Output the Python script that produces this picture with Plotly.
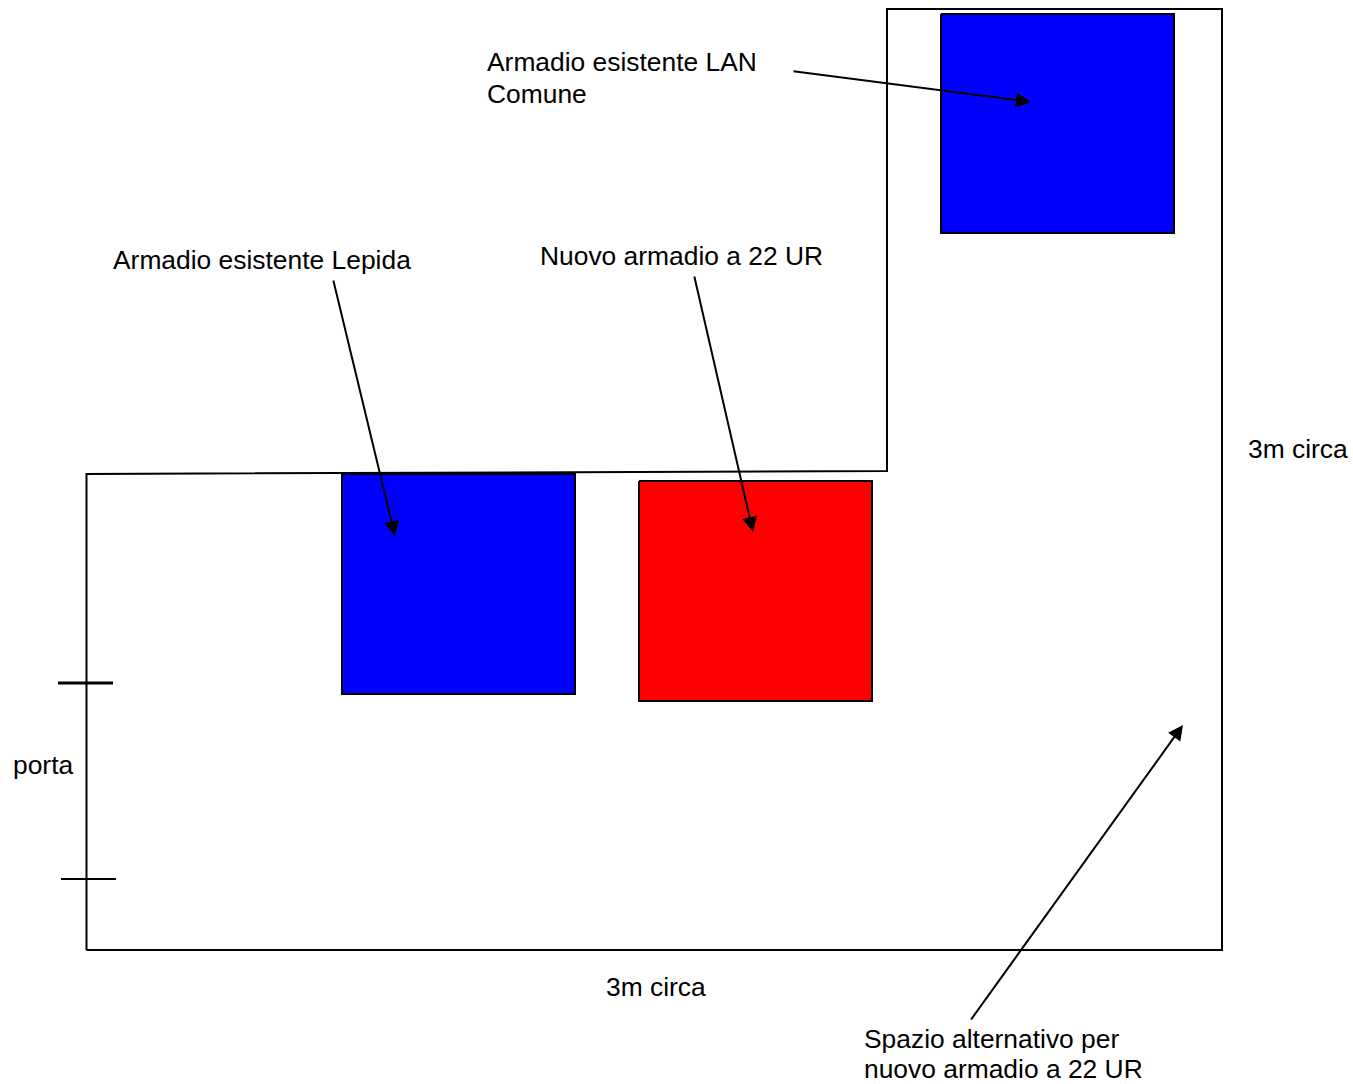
import plotly.graph_objects as go

W, H = 1353, 1084
wall_x = [86.5, 86.5, 887, 887, 1222, 1222, 86.5]
wall_y = [950, 474, 471, 9, 9, 950, 950]
door_x = [[58, 113], [61, 116]]
door_y = [[683, 683], [879, 879]]
door_w = [2.8, 2.0]
box_names = ["LAN Comune", "Lepida", "Nuovo"]
box_x0 = [941, 342, 639]
box_x1 = [1174, 575, 872]
box_y0 = [14, 474, 481]
box_y1 = [233, 694, 701]
box_colors = ["#0000ff", "#0000ff", "#ff0000"]
arrow_start_x = [792, 333, 694, 970]
arrow_start_y = [71, 279, 275, 1021]
arrow_end_x = [1031, 395, 753, 1183]
arrow_end_y = [102, 536, 532, 725]
labels = ["Armadio esistente LAN", "Comune", "Armadio esistente Lepida", "Nuovo armadio a 22 UR",
          "3m circa", "porta", "3m circa", "Spazio alternativo per", "nuovo armadio a 22 UR"]
label_x = [485, 485, 111, 538, 1246, 11, 604, 862, 862]
label_y = [62, 94, 260, 256, 449, 765, 987, 1039, 1069]

fig = go.Figure()
for n, x0, x1, y0, y1, c in zip(box_names, box_x0, box_x1, box_y0, box_y1, box_colors):
    fig.add_trace(go.Scatter(x=[x0, x1, x1, x0, x0], y=[y0, y0, y1, y1, y0], mode="lines", fill="toself",
                             fillcolor=c, line=dict(color="black", width=2), name=n, hoverinfo="skip"))
fig.add_trace(go.Scatter(x=wall_x, y=wall_y, mode="lines", line=dict(color="black", width=2), name="pareti", hoverinfo="skip"))
for x, y, w in zip(door_x, door_y, door_w):
    fig.add_trace(go.Scatter(x=x, y=y, mode="lines", line=dict(color="black", width=w), name="porta", hoverinfo="skip"))
for sx, sy, ex, ey in zip(arrow_start_x, arrow_start_y, arrow_end_x, arrow_end_y):
    fig.add_annotation(x=ex, y=ey, ax=sx, ay=sy, xref="x", yref="y", axref="x", ayref="y", text="", showarrow=True,
                       arrowhead=2, arrowsize=1.5, arrowwidth=2, arrowcolor="black", standoff=0)
for t, x, y in zip(labels, label_x, label_y):
    fig.add_annotation(x=x, y=y, xref="x", yref="y", text=t, showarrow=False, xanchor="left", yanchor="middle",
                       align="left", font=dict(family="Liberation Sans", size=26.4, color="black"))
fig.update_layout(width=W, height=H, margin=dict(l=0, r=0, t=0, b=0), showlegend=False,
                  paper_bgcolor="white", plot_bgcolor="white",
                  xaxis=dict(range=[0, W], visible=False, fixedrange=True),
                  yaxis=dict(range=[H, 0], visible=False, fixedrange=True))
fig.write_html("out.html", config={"displayModeBar": False},
               post_script="document.body.style.margin='0';document.documentElement.style.overflow='hidden';")
